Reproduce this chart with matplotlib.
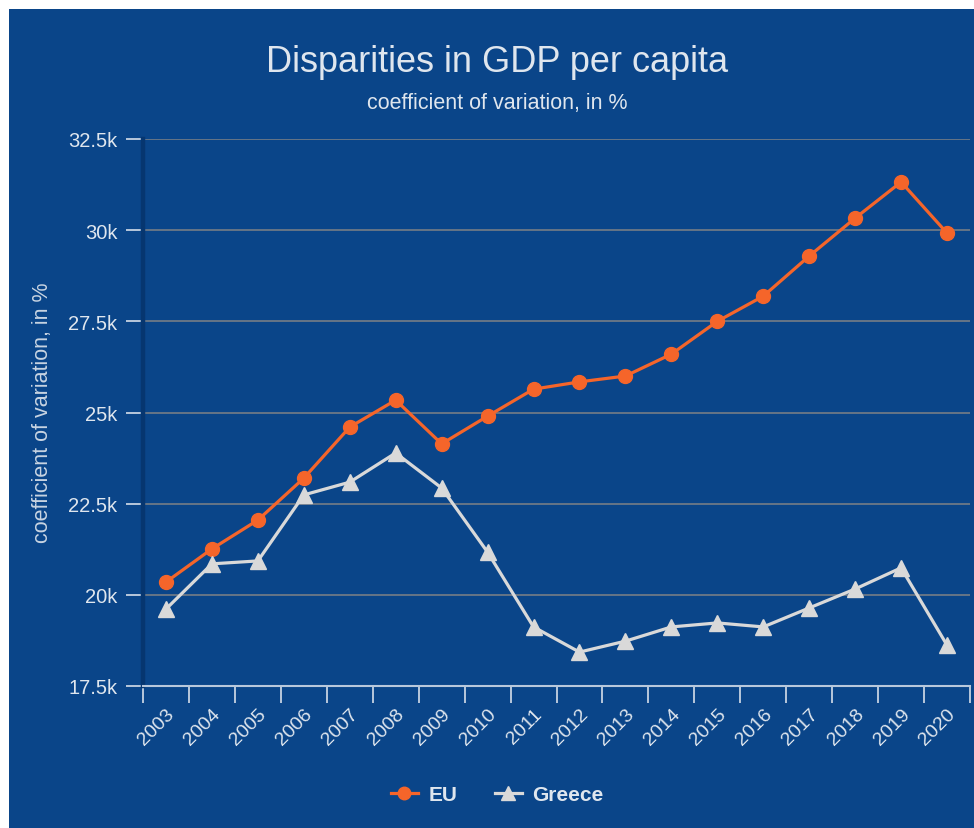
import matplotlib
matplotlib.use("Agg")
import matplotlib.pyplot as plt
from matplotlib.patches import Rectangle
import numpy as np

years = ["2003", "2004", "2005", "2006", "2007", "2008", "2009", "2010", "2011",
         "2012", "2013", "2014", "2015", "2016", "2017", "2018", "2019", "2020"]
eu = [20.35, 21.26, 22.05, 23.2, 24.6, 25.34, 24.14, 24.9, 25.64,
      25.84, 26.0, 26.6, 27.5, 28.19, 29.29, 30.33, 31.32, 29.92]
greece = [19.61, 20.85, 20.93, 22.74, 23.09, 23.89, 22.93, 21.17, 19.12,
          18.43, 18.73, 19.12, 19.23, 19.12, 19.64, 20.16, 20.74, 18.62]
ytick_vals = [17.5, 20, 22.5, 25, 27.5, 30, 32.5]
ytick_labels = ["17.5k", "20k", "22.5k", "25k", "27.5k", "30k", "32.5k"]

BG = "#0a4589"
TXT = "#dfe6ee"
W, H = 974, 829

plt.rcParams['font.family'] = ['Liberation Sans', 'DejaVu Sans']

fig = plt.figure(figsize=(W / 100, H / 100), dpi=100, facecolor="white")
fig.patches.append(Rectangle((9 / W, 0), 1 - 9 / W, 1 - 10 / H, transform=fig.transFigure,
                             facecolor=BG, edgecolor="none", zorder=-10))

ax = fig.add_axes([143 / W, 1 - 687 / H, (970 - 143) / W, (687 - 140) / H])
ax.set_facecolor(BG)
ax.patch.set_alpha(0)

x = np.arange(len(years))
ax.plot(x, eu, color="#f5652a", lw=2.3, marker="o", ms=10, label="EU", zorder=3)
ax.plot(x, greece, color="#d9d9d9", lw=2.3, marker="^", ms=11, label="Greece", zorder=3)

ax.set_xlim(-0.5, len(years) - 0.5)
ax.set_ylim(17.5, 32.5)

ax.set_yticks(ytick_vals)
ax.set_yticklabels(ytick_labels)
ax.yaxis.grid(True, color="#767d86", lw=1.2)
ax.set_axisbelow(True)
ax.tick_params(axis="y", colors="#b8c8dc", length=12.5, width=1.4, pad=5.8,
               labelsize=14.5, labelcolor=TXT)

ax.set_xticks(np.arange(len(years) + 1) - 0.5)
ax.set_xticklabels([])
ax.set_xticks(x, minor=True)
ax.set_xticklabels(years, minor=True, rotation=45, ha="right", va="top",
                   rotation_mode="anchor")
ax.tick_params(axis="x", which="major", colors="#b8c8dc", length=12.5, width=1.4)
ax.tick_params(axis="x", which="minor", length=0, pad=14, labelsize=14, labelcolor=TXT)

for s in ["top", "right"]:
    ax.spines[s].set_visible(False)
ax.spines["bottom"].set_color("#b8c8dc")
ax.spines["bottom"].set_linewidth(1.5)
ax.spines["left"].set_color("#063670")
ax.spines["left"].set_linewidth(3.2)

fig.text(497 / W, 1 - 62 / H, "Disparities in GDP per capita", ha="center", va="center",
         fontsize=26, color=TXT)
fig.text(497 / W, 1 - 104 / H, "coefficient of variation, in %", ha="center", va="center",
         fontsize=15.5, color=TXT)
fig.text(43 / W, 1 - 413 / H, "coefficient of variation, in %", ha="center", va="center",
         rotation=90, fontsize=15.5, color="#c8d4e2")

leg = fig.legend(loc="center", bbox_to_anchor=(497 / W, 1 - 796 / H), ncol=2, frameon=False,
                 prop={"weight": "bold", "size": 15}, labelcolor=TXT,
                 handlelength=1.3, columnspacing=1.8, handletextpad=0.5, markerscale=0.9)

fig.savefig("out.png", dpi=100, facecolor="white")
